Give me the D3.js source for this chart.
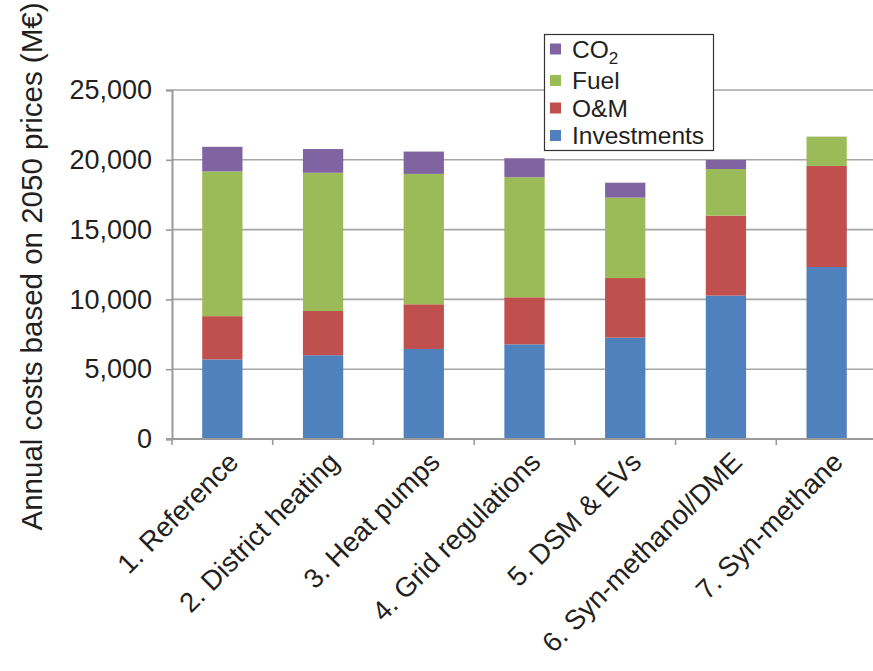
<!DOCTYPE html>
<html>
<head>
<meta charset="utf-8">
<script src="https://cdn.jsdelivr.net/npm/d3@7"></script>
<style>
  html, body { margin: 0; padding: 0; background: #fff; }
  svg { display: block; font-family: "Liberation Sans", Arial, Helvetica, sans-serif; }
</style>
</head>
<body>
<svg id="chart" width="873" height="671"></svg>
<script>
// Scenarios (x categories)
const categories = [
  "1. Reference",
  "2. District heating",
  "3. Heat pumps",
  "4. Grid regulations",
  "5. DSM & EVs",
  "6. Syn-methanol/DME",
  "7. Syn-methane"
];

// Annual cost components, M€ (2050 prices)
const investments = [5700, 6000, 6450, 6780, 7260, 10270, 12320];
const oandm       = [3100, 3170, 3200, 3370, 4270, 5730, 7240];
const fuel        = [10370, 9900, 9340, 8600, 5760, 3340, 2100];
const co2         = [1760, 1700, 1600, 1360, 1070, 650, 0];

const seriesKeys   = ["Investments", "O&M", "Fuel", "CO2"];
const seriesColors = ["#4f81bd", "#c0504d", "#9bbb59", "#8064a2"];
const yTicks = [0, 5000, 10000, 15000, 20000, 25000];

const rows = categories.map((c, i) => ({
  category: c,
  "Investments": investments[i],
  "O&M": oandm[i],
  "Fuel": fuel[i],
  "CO2": co2[i]
}));

const svg = d3.select("#chart");
const plotLeft = 172, plotRight = 877, plotTop = 90, plotBottom = 439;

const x = d3.scaleBand().domain(categories).range([plotLeft, plotRight])
  .paddingInner(0.6).paddingOuter(0.3);
const y = d3.scaleLinear().domain([0, 25000]).range([plotBottom, plotTop]);
const color = d3.scaleOrdinal().domain(seriesKeys).range(seriesColors);

const textColor = "#231f20";
const gridColor = "#a6a6a6";

// horizontal gridlines
svg.append("g").selectAll("line").data(yTicks.filter(d => d > 0)).join("line")
  .attr("x1", plotLeft).attr("x2", 873)
  .attr("y1", d => y(d)).attr("y2", d => y(d))
  .attr("stroke", gridColor).attr("stroke-width", 1.6);

// stacked bars
const stacked = d3.stack().keys(seriesKeys)(rows);
svg.append("g").selectAll("g").data(stacked).join("g")
  .attr("fill", d => color(d.key))
  .selectAll("rect").data(d => d).join("rect")
    .attr("x", d => x(d.data.category))
    .attr("width", x.bandwidth())
    .attr("y", d => y(d[1]))
    .attr("height", d => y(d[0]) - y(d[1]));

// y axis
const yAxis = svg.append("g")
  .attr("transform", `translate(${plotLeft},0)`)
  .call(d3.axisLeft(y).tickValues(yTicks).tickFormat(d3.format(",")).tickSize(6).tickPadding(14));
yAxis.select(".domain").attr("stroke", "#9a9a9a").attr("stroke-width", 2);
yAxis.selectAll(".tick line").attr("stroke", "#9a9a9a").attr("stroke-width", 1.6);
yAxis.selectAll(".tick text")
  .attr("fill", textColor).style("font-size", "27px");

// x axis baseline and category boundary ticks
svg.append("line")
  .attr("x1", plotLeft - 6).attr("x2", 873)
  .attr("y1", plotBottom).attr("y2", plotBottom)
  .attr("stroke", "#9a9a9a").attr("stroke-width", 2);
const step = x.step();
const boundaries = d3.range(categories.length + 1).map(i => x(categories[0]) - x.paddingOuter() * step + i * step);
svg.append("g").selectAll("line").data(boundaries).join("line")
  .attr("x1", d => d).attr("x2", d => d)
  .attr("y1", plotBottom).attr("y2", plotBottom + 6)
  .attr("stroke", "#9a9a9a").attr("stroke-width", 1.6);

// rotated category labels
svg.append("g").selectAll("text").data(categories).join("text")
  .attr("transform", d => `translate(${x(d) + x.bandwidth() / 2 + 11},${plotBottom + 18}) rotate(-45)`)
  .attr("text-anchor", "end")
  .attr("dy", "0.35em")
  .attr("fill", textColor)
  .style("font-size", "27.5px")
  .text(d => d);

// y axis title
svg.append("text")
  .attr("transform", "translate(42,266.5) rotate(-90)")
  .attr("text-anchor", "middle")
  .attr("fill", textColor)
  .style("font-size", "29.5px")
  .text("Annual costs based on 2050 prices (M€)");

// legend (top series first)
const legend = svg.append("g");
legend.append("rect")
  .attr("x", 544.5).attr("y", 34.5).attr("width", 169).attr("height", 116)
  .attr("fill", "#fff").attr("stroke", "#333").attr("stroke-width", 1.2);
const legendItems = seriesKeys.slice().reverse();
const rowY = i => (i === 0 ? 49 : 53 + i * 27.5);
const li = legend.selectAll("g.item").data(legendItems).join("g")
  .attr("class", "item")
  .attr("transform", (d, i) => `translate(550,${rowY(i)})`);
li.append("rect")
  .attr("x", 0).attr("y", -5.5).attr("width", 11).attr("height", 11)
  .attr("fill", d => color(d));
const lt = li.append("text")
  .attr("x", 22).attr("dy", "0.35em")
  .attr("fill", textColor)
  .style("font-size", "24.5px");
lt.each(function(d) {
  const t = d3.select(this);
  if (d === "CO2") {
    t.append("tspan").text("CO");
    t.append("tspan").attr("dy", "6").style("font-size", "17px").text("2");
  } else {
    t.text(d);
  }
});
</script>
</body>
</html>
